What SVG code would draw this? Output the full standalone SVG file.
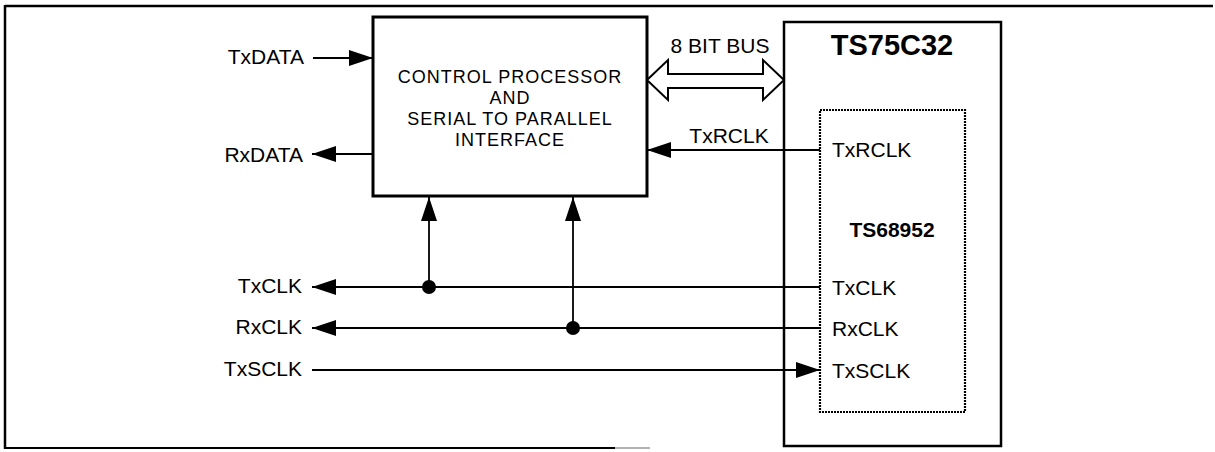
<svg xmlns="http://www.w3.org/2000/svg" width="1215" height="452" viewBox="0 0 1215 452">
<style>
text{font-family:"Liberation Sans",Arial,sans-serif;font-size:21px;fill:#000}
.r{text-anchor:end}
.m{text-anchor:middle}
.b{font-weight:bold}
.c{font-size:18px;letter-spacing:1px}
.w{stroke:#000;stroke-width:1.8;fill:none}
.box{stroke:#000;fill:#fff}
</style>
<defs>
<marker id="ah" markerUnits="userSpaceOnUse" markerWidth="24" markerHeight="16" refX="24" refY="8" orient="auto">
<path d="M0,0 L24,8 L0,16 Z" fill="#000"/>
</marker>
</defs>
<g id="frame">
<line x1="5" y1="6" x2="1213" y2="6" stroke="#000" stroke-width="2.5"/>
<line x1="5" y1="5" x2="5" y2="449" stroke="#000" stroke-width="2.5"/>
<line x1="4" y1="448" x2="615" y2="448" stroke="#000" stroke-width="2.2"/>
<line x1="615" y1="448" x2="650" y2="448" stroke="#999" stroke-width="1.5"/>
</g>
<g id="cpu">
<rect class="box" x="373" y="17" width="274" height="179" stroke-width="3"/>
<text class="m c" x="510" y="83">CONTROL PROCESSOR</text>
<text class="m c" x="510" y="104">AND</text>
<text class="m c" x="510" y="125">SERIAL TO PARALLEL</text>
<text class="m c" x="510" y="146">INTERFACE</text>
</g>
<g id="ts75c32">
<rect class="box" x="784" y="22" width="217" height="424" stroke-width="2.5"/>
<text class="m b" x="892" y="55" style="font-size:29px">TS75C32</text>
</g>
<g id="ts68952">
<rect x="820" y="110" width="145" height="302" fill="none" stroke="#000" stroke-width="2.2" stroke-dasharray="2 1"/>
<text class="m b" x="892" y="237" style="font-size:21px">TS68952</text>
<text x="832" y="157">TxRCLK</text>
<text x="832" y="295">TxCLK</text>
<text x="832" y="336">RxCLK</text>
<text x="832" y="378">TxSCLK</text>
</g>
<g id="labels">
<text class="r" x="304" y="64">TxDATA</text>
<text class="r" x="303" y="162">RxDATA</text>
<text class="r" x="302" y="293">TxCLK</text>
<text class="r" x="302" y="334">RxCLK</text>
<text class="r" x="302" y="376">TxSCLK</text>
<text class="m" x="720" y="53">8 BIT BUS</text>
<text class="m" x="729" y="143">TxRCLK</text>
</g>
<g id="connectors">
<polygon points="647,80 668,60 668,74 763,74 763,60 784,80 763,100 763,88 668,88 668,100" fill="#fff" stroke="#000" stroke-width="2"/>
<line class="w" x1="313" y1="58" x2="373" y2="58" marker-end="url(#ah)"/>
<line class="w" x1="373" y1="154" x2="312" y2="154" marker-end="url(#ah)"/>
<line class="w" x1="820" y1="150" x2="647" y2="150" marker-end="url(#ah)"/>
<line class="w" x1="820" y1="287" x2="312" y2="287" marker-end="url(#ah)"/>
<line class="w" x1="820" y1="328" x2="312" y2="328" marker-end="url(#ah)"/>
<line class="w" x1="312" y1="370" x2="820" y2="370" marker-end="url(#ah)"/>
<line class="w" x1="429" y1="287" x2="429" y2="197" marker-end="url(#ah)"/>
<line class="w" x1="573" y1="328" x2="573" y2="197" marker-end="url(#ah)"/>
<circle cx="429" cy="287" r="7" fill="#000"/>
<circle cx="573" cy="328" r="7" fill="#000"/>
</g>
</svg>
